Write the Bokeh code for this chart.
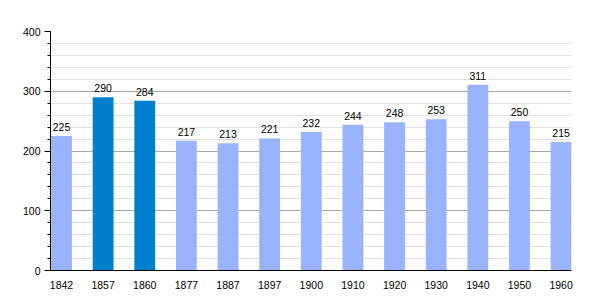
from bokeh.plotting import figure
from bokeh.models import Range1d, SingleIntervalTicker, FixedTicker, ColumnDataSource
from bokeh.core.properties import value
from bokeh.embed import file_html
from bokeh.resources import INLINE

years = ["1842", "1857", "1860", "1877", "1887", "1897", "1900", "1910", "1920", "1930", "1940", "1950", "1960"]
population = [225, 290, 284, 217, 213, 221, 232, 244, 248, 253, 311, 250, 215]
highlight = [False, True, True, False, False, False, False, False, False, False, False, False, False]

LIGHT = "#99b3ff"
DARK = "#0080cc"

xs = list(range(len(years)))
colors = [DARK if h else LIGHT for h in highlight]
src = ColumnDataSource(dict(x=xs, top=population, color=colors, label=[str(v) for v in population]))

p = figure(width=600, height=300, output_backend="svg", toolbar_location=None,
           x_range=Range1d(-0.264, 12.25), y_range=Range1d(0, 400),
           min_border_left=50, min_border_right=29, min_border_top=31, min_border_bottom=30)
p.outline_line_color = None
p.background_fill_color = "white"
p.border_fill_color = "white"

p.vbar(x="x", top="top", width=0.5, bottom=0, color="color", line_color=None, source=src)
p.text(x="x", y="top", text="label", source=src, text_align="center", text_baseline="bottom",
       y_offset=-5, text_font=value("Liberation Sans"), text_font_size="10.5px", text_color="black")

# y axis
p.yaxis.ticker = SingleIntervalTicker(interval=100, num_minor_ticks=5)
p.yaxis.axis_line_color = "black"
p.yaxis.major_tick_out = 6
p.yaxis.major_tick_in = 0
p.yaxis.minor_tick_out = 3
p.yaxis.minor_tick_in = 0
p.yaxis.major_tick_line_color = "black"
p.yaxis.minor_tick_line_color = "black"
p.yaxis.major_label_text_font = "Liberation Sans"
p.yaxis.major_label_text_font_size = "10.5px"
p.yaxis.major_label_text_color = "black"
p.yaxis.major_label_standoff = 4

# x axis
p.xaxis.ticker = FixedTicker(ticks=xs)
p.xaxis.major_label_overrides = {i: y for i, y in enumerate(years)}
p.xaxis.axis_line_color = "black"
p.xaxis.major_tick_line_color = None
p.xaxis.minor_tick_line_color = None
p.xaxis.major_label_text_font = "Liberation Sans"
p.xaxis.major_label_text_font_size = "10.5px"
p.xaxis.major_label_text_color = "black"
p.xaxis.major_label_standoff = 4

# grids
p.xgrid.grid_line_color = None
p.ygrid.grid_line_color = "#aaaaaa"
p.ygrid.minor_grid_line_color = "#e2e2e2"

open("out.html", "w").write(file_html(p, INLINE))
